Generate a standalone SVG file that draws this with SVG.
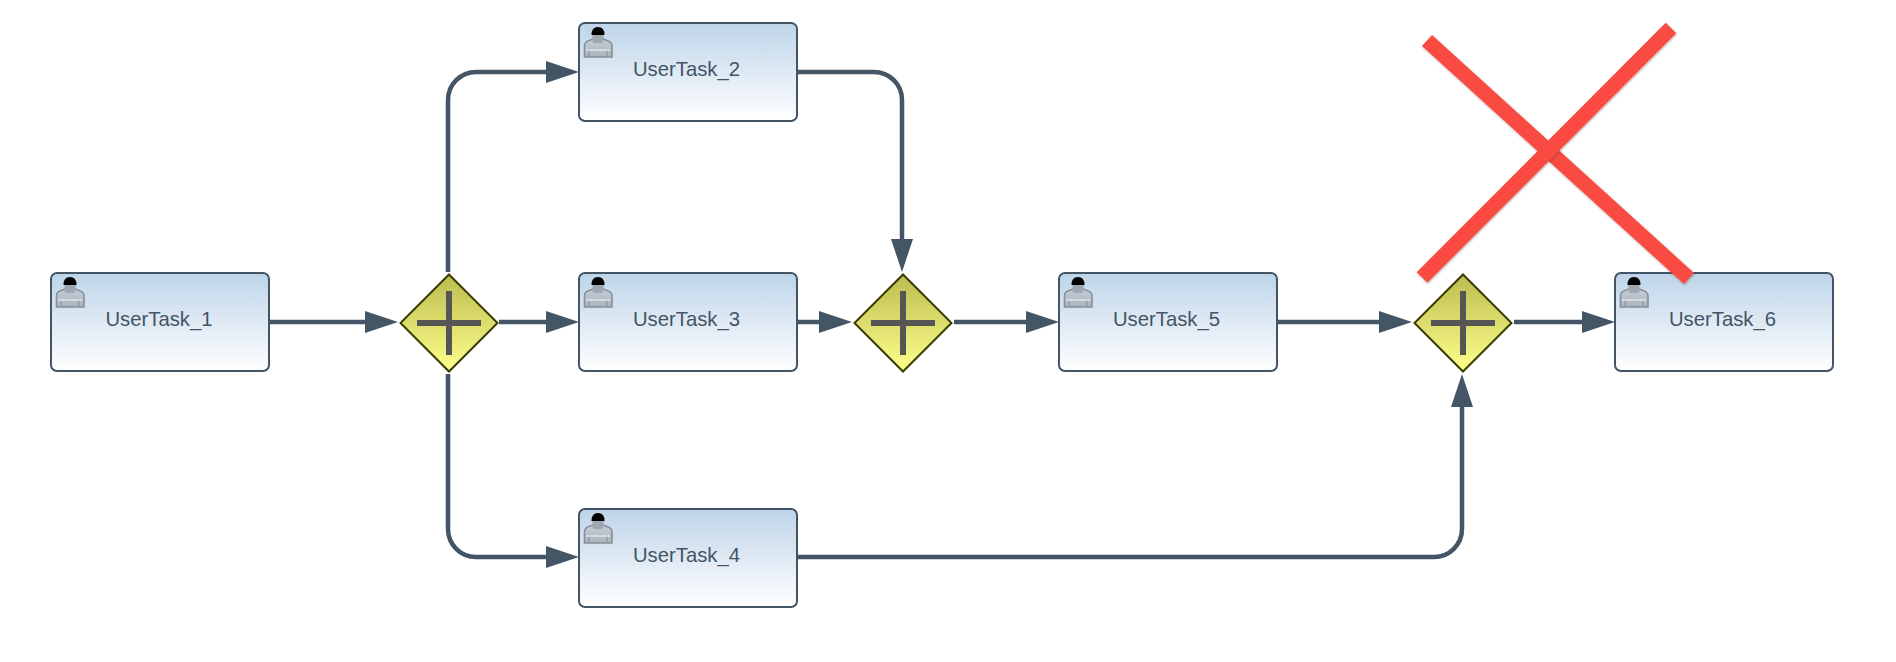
<svg xmlns="http://www.w3.org/2000/svg" width="1896" height="662" viewBox="0 0 1896 662">
<style>
.bg{fill:#fff}
.task{fill:url(#taskFill);stroke:#445566;stroke-width:2}
.gw{fill:url(#gwFill);stroke:#3a3a00;stroke-width:2}
.plus{fill:#555}
.lbl{font-family:"Liberation Sans",Arial,sans-serif;font-size:20.3px;fill:#445566;text-anchor:middle}
.flow{fill:none;stroke:#445566;stroke-width:4.500}
.cross{fill:none;stroke:#f94c43;stroke-width:15;filter:url(#sh)}
</style>
<defs>
<linearGradient id="taskFill" x1="0" y1="0" x2="0" y2="1"><stop offset="0" stop-color="#bed4e9"/><stop offset="1" stop-color="#ffffff"/></linearGradient>
<linearGradient id="gwFill" x1="0" y1="0" x2="0" y2="1"><stop offset="0" stop-color="#bcbc50"/><stop offset="1" stop-color="#ffff8c"/></linearGradient>
<linearGradient id="body" x1="0" y1="0" x2="0" y2="1"><stop offset="0" stop-color="#c6cfd8"/><stop offset="1" stop-color="#aab4bd"/></linearGradient>
<marker id="arrow" markerUnits="userSpaceOnUse" markerWidth="33" markerHeight="22" refX="23" refY="11" orient="auto"><path d="M0 0L33 11L0 22Z" fill="#445566"/></marker>
<filter id="sh" x="-10%" y="-10%" width="120%" height="120%"><feDropShadow dx="0.500" dy="1" stdDeviation="1" flood-color="#000" flood-opacity="0.3"/></filter>
<g id="user">
<path d="M1.500 30V19Q1.500 15 6 13.500L10 12H20L24 13.500Q29 15 29 19V30Z" fill="url(#body)" stroke="#868f97" stroke-width="1.600"/>
<path d="M6 22V29M24 22V29" stroke="#868f97" stroke-width="1"/>
<path d="M3 23H27" stroke="#dfe4e9" stroke-width="1.500"/>
<rect x="9.500" y="5" width="11" height="11" rx="2.500" fill="#9ea8b1"/>
<path d="M8.500 8Q8.500 0 15 0Q21.500 0 21.500 8Z" fill="#000"/>
</g>
<g id="plusMark"><rect x="-32" y="-3" width="64" height="6" class="plus"/><rect x="-3" y="-32" width="6" height="64" class="plus"/></g>
</defs>
<rect class="bg" width="1896" height="662"/>
<g id="connectors">
<path class="flow" marker-end="url(#arrow)" d="M269 322H388"/>
<path class="flow" marker-end="url(#arrow)" d="M499 322H569"/>
<path class="flow" marker-end="url(#arrow)" d="M448 272V100A28 28 0 0 1 476 72H569"/>
<path class="flow" marker-end="url(#arrow)" d="M448 374V529A28 28 0 0 0 476 557H569"/>
<path class="flow" marker-end="url(#arrow)" d="M797 72H874A28 28 0 0 1 902 100V262"/>
<path class="flow" marker-end="url(#arrow)" d="M797 322H842"/>
<path class="flow" marker-end="url(#arrow)" d="M954 322H1049"/>
<path class="flow" marker-end="url(#arrow)" d="M1277 322H1402"/>
<path class="flow" marker-end="url(#arrow)" d="M1514 322H1605"/>
<path class="flow" marker-end="url(#arrow)" d="M797 557H1434A28 28 0 0 0 1462 529V384"/>
</g>
<g id="UserTask_1"><rect class="task" x="51" y="273" width="218" height="98" rx="6"/><use href="#user" x="55" y="277"/><text class="lbl" x="159" y="326">UserTask_1</text></g>
<g id="UserTask_2"><rect class="task" x="579" y="23" width="218" height="98" rx="6"/><use href="#user" x="583" y="27"/><text class="lbl" x="686.500" y="76">UserTask_2</text></g>
<g id="UserTask_3"><rect class="task" x="579" y="273" width="218" height="98" rx="6"/><use href="#user" x="583" y="277"/><text class="lbl" x="686.500" y="326">UserTask_3</text></g>
<g id="UserTask_4"><rect class="task" x="579" y="509" width="218" height="98" rx="6"/><use href="#user" x="583" y="513"/><text class="lbl" x="686.500" y="562">UserTask_4</text></g>
<g id="UserTask_5"><rect class="task" x="1059" y="273" width="218" height="98" rx="6"/><use href="#user" x="1063" y="277"/><text class="lbl" x="1166.500" y="326">UserTask_5</text></g>
<g id="UserTask_6"><rect class="task" x="1615" y="273" width="218" height="98" rx="6"/><use href="#user" x="1619" y="277"/><text class="lbl" x="1722.500" y="326">UserTask_6</text></g>
<g id="Gateway_1"><path class="gw" d="M449 274.500L497.500 323L449 371.500L400.500 323Z"/><use href="#plusMark" x="449" y="323"/></g>
<g id="Gateway_2"><path class="gw" d="M903 274.500L951.500 323L903 371.500L854.500 323Z"/><use href="#plusMark" x="903" y="323"/></g>
<g id="Gateway_3"><path class="gw" d="M1463 274.500L1511.500 323L1463 371.500L1414.500 323Z"/><use href="#plusMark" x="1463" y="323"/></g>
<g id="cross"><path class="cross" d="M1427 40.500L1689 278.500"/><path class="cross" d="M1671 28L1422 277.500"/></g>
</svg>
